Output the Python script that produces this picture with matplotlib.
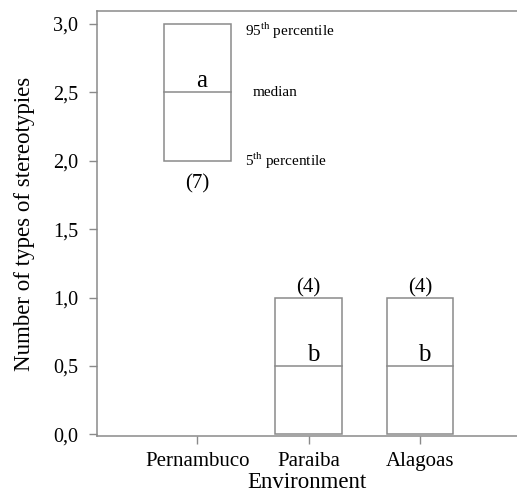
import matplotlib
matplotlib.use("Agg")
import matplotlib.pyplot as plt

plt.rcParams['font.family'] = ['Liberation Serif', 'DejaVu Serif']
plt.rcParams['mathtext.fontset'] = 'custom'
plt.rcParams['mathtext.rm'] = 'Liberation Serif'

categories = ['Pernambuco', 'Paraiba', 'Alagoas']
p5 = [2.0, 0.0, 0.0]
medians = [2.5, 0.5, 0.5]
p95 = [3.0, 1.0, 1.0]
letters = ['a', 'b', 'b']
counts = ['(7)', '(4)', '(4)']
yticks = [0.0, 0.5, 1.0, 1.5, 2.0, 2.5, 3.0]
ytick_labels = ['0,0', '0,5', '1,0', '1,5', '2,0', '2,5', '3,0']

W, H = 517, 495
fig = plt.figure(figsize=(W/100, H/100), dpi=100)
ax = fig.add_axes([97/W, 1-436/H, 1-97/W, (436-11)/H])

grey = '#8a8a8a'
pos = [1, 2, 3]
bw = 0.6
for x, lo, md, hi in zip(pos, p5, medians, p95):
    ax.add_patch(plt.Rectangle((x-bw/2, lo), bw, hi-lo, fill=False, edgecolor=grey, lw=1.1))
    ax.plot([x-bw/2, x+bw/2], [md, md], color=grey, lw=1.1)

for x, md, l in zip(pos, medians, letters):
    ax.text(x+0.04, md+0.0, l, ha='center', va='bottom', fontsize=18)

ax.text(1, p5[0]-0.1, counts[0], ha='center', va='top', fontsize=15)
for i in (1, 2):
    ax.text(pos[i], p95[i]+0.0, counts[i], ha='center', va='bottom', fontsize=15)

ax.text(1.43, 2.95, '95$^{\\rm th}$ percentile', ha='left', va='center', fontsize=11)
ax.text(1.5, 2.5, 'median', ha='left', va='center', fontsize=11)
ax.text(1.43, 2.0, '5$^{\\rm th}$ percentile', ha='left', va='center', fontsize=11)

ax.set_xlim(0.1, 3.87)
ax.set_ylim(-0.012, 3.095)
ax.set_xticks(pos)
ax.set_xticklabels(categories, fontsize=15)
ax.set_yticks(yticks)
ax.set_yticklabels(ytick_labels, fontsize=14.5)
ax.set_xlabel('Environment', fontsize=16.5, labelpad=1)
ax.set_ylabel('Number of types of stereotypies', fontsize=16.5, labelpad=13)
ax.tick_params(direction='out', length=5.5, color=grey, width=1)
ax.tick_params(axis='y', pad=8)
ax.tick_params(axis='x', pad=6)
for s in ('left', 'bottom', 'top'):
    ax.spines[s].set_color(grey)
    ax.spines[s].set_linewidth(1.1)
ax.spines['right'].set_visible(False)

fig.savefig('out.png', dpi=100)
